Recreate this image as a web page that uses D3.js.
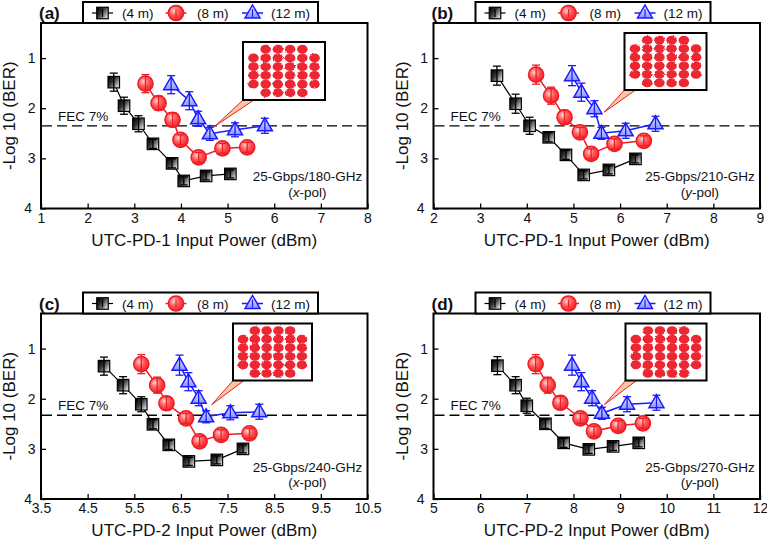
<!DOCTYPE html>
<html><head><meta charset="utf-8">
<script src="https://cdn.jsdelivr.net/npm/d3@7"></script>
<style>
body{margin:0;background:#fff}
svg{display:block}
text{font-family:"Liberation Sans",Arial,Helvetica,sans-serif;fill:#111}
</style>
</head><body>
<svg id="chart" width="767" height="541"></svg>
<script>
// ---------------- DATA ----------------
const panelLabels = ["(a)", "(b)", "(c)", "(d)"];
const xTitles = ["UTC-PD-1 Input Power (dBm)", "UTC-PD-1 Input Power (dBm)",
                 "UTC-PD-2 Input Power (dBm)", "UTC-PD-2 Input Power (dBm)"];
const xDomains = [[1, 8], [2, 9], [3.5, 10.5], [5, 12]];
const xTicksA = [1, 2, 3, 4, 5, 6, 7, 8];
const xTicksB = [2, 3, 4, 5, 6, 7, 8, 9];
const xTicksC = [3.5, 4.5, 5.5, 6.5, 7.5, 8.5, 9.5, 10.5];
const xTicksD = [5, 6, 7, 8, 9, 10, 11, 12];
const yDomain = [0.3, 4];
const yTicks = [1, 2, 3, 4];
const yTitle = "-Log 10 (BER)";
const fecLevels = [2.35, 2.35, 2.33, 2.33];
const fecLabel = "FEC 7%";
const rateLabels = ["25-Gbps/180-GHz", "25-Gbps/210-GHz", "25-Gbps/240-GHz", "25-Gbps/270-GHz"];
const polLabels = ["x", "y", "x", "y"];
const seriesNames = ["(4 m)", "(8 m)", "(12 m)"];

// panel (a)
const aX4 = [2.56, 2.78, 3.09, 3.40, 3.81, 4.06, 4.54, 5.06];
const aY4 = [1.48, 1.95, 2.31, 2.71, 3.10, 3.45, 3.35, 3.31];
const aE4 = [0.18, 0.17, 0.16, 0.09, 0.09, 0.08, 0.08, 0.08];
const aX8 = [3.24, 3.52, 3.82, 3.99, 4.38, 4.89, 5.42];
const aY8 = [1.51, 1.90, 2.23, 2.63, 2.98, 2.80, 2.78];
const aE8 = [0.18, 0.14, 0.14, 0.10, 0.10, 0.10, 0.10];
const aX12 = [3.79, 4.18, 4.37, 4.62, 5.16, 5.80];
const aY12 = [1.53, 1.85, 2.21, 2.51, 2.43, 2.35];
const aE12 = [0.18, 0.18, 0.15, 0.13, 0.14, 0.15];
// panel (b)
const bX4 = [3.36, 3.76, 4.06, 4.47, 4.84, 5.22, 5.76, 6.33];
const bY4 = [1.35, 1.91, 2.35, 2.58, 2.93, 3.33, 3.23, 3.01];
const bE4 = [0.19, 0.19, 0.17, 0.09, 0.09, 0.08, 0.08, 0.08];
const bX8 = [4.20, 4.52, 4.81, 5.14, 5.38, 5.88, 6.51];
const bY8 = [1.33, 1.75, 2.18, 2.48, 2.91, 2.71, 2.65];
const bE8 = [0.19, 0.17, 0.14, 0.10, 0.10, 0.10, 0.10];
const bX12 = [4.97, 5.17, 5.45, 5.60, 6.12, 6.76];
const bY12 = [1.35, 1.68, 2.01, 2.50, 2.45, 2.31];
const bE12 = [0.20, 0.18, 0.16, 0.12, 0.15, 0.15];
// panel (c)
const cX4 = [4.85, 5.26, 5.65, 5.90, 6.24, 6.67, 7.27, 7.83];
const cY4 = [1.35, 1.73, 2.11, 2.51, 2.92, 3.25, 3.22, 3.00];
const cE4 = [0.18, 0.17, 0.15, 0.09, 0.09, 0.08, 0.08, 0.08];
const cX8 = [5.65, 5.99, 6.19, 6.61, 6.90, 7.36, 7.97];
const cY8 = [1.31, 1.73, 2.09, 2.39, 2.85, 2.72, 2.69];
const cE8 = [0.19, 0.16, 0.13, 0.10, 0.10, 0.10, 0.10];
const cX12 = [6.47, 6.66, 6.88, 7.04, 7.56, 8.18];
const cY12 = [1.33, 1.66, 1.99, 2.36, 2.28, 2.26];
const cE12 = [0.20, 0.18, 0.15, 0.12, 0.14, 0.15];
// panel (d)
const dX4 = [6.37, 6.76, 7.00, 7.40, 7.79, 8.33, 8.85, 9.40];
const dY4 = [1.34, 1.73, 2.14, 2.50, 2.88, 3.01, 2.95, 2.88];
const dE4 = [0.18, 0.17, 0.15, 0.09, 0.09, 0.08, 0.08, 0.08];
const dX8 = [7.19, 7.45, 7.72, 8.15, 8.44, 8.96, 9.49];
const dY8 = [1.31, 1.73, 2.08, 2.39, 2.65, 2.54, 2.49];
const dE8 = [0.19, 0.16, 0.13, 0.10, 0.10, 0.10, 0.10];
const dX12 = [7.97, 8.17, 8.40, 8.61, 9.15, 9.78];
const dY12 = [1.33, 1.66, 1.99, 2.29, 2.11, 2.08];
const dE12 = [0.20, 0.18, 0.15, 0.12, 0.15, 0.15];

// callout tip of each constellation inset, in data units
const calloutTipX = [4.74, 5.66, 7.16, 8.66];
const calloutTipY = [2.35, 2.08, 2.12, 2.12];

// ---------------- LAYOUT / STYLE ----------------
const FONT = '"Liberation Sans",Arial,Helvetica,sans-serif';
const W = 326.5, H = 185.5;
const frames = [
  {left: 41, top: 23}, {left: 433.5, top: 23},
  {left: 41, top: 313.5}, {left: 433.5, top: 313.5}
];
const insets = [
  {dx: 202, dy: 19, w: 82, h: 58},
  {dx: 191, dy: 10, w: 82, h: 57},
  {dx: 192, dy: 10, w: 79, h: 57},
  {dx: 192, dy: 10, w: 81, h: 57}
];
const styles = [
  {shape: "square", stroke: "#000", fill: "url(#gSq)", line: "#000", lw: 1.2},
  {shape: "circle", stroke: "#ee1c24", fill: "url(#gCi)", line: "#ee1c24", lw: 1.5},
  {shape: "triangle", stroke: "#1a1aff", fill: "url(#gTr)", line: "#1a1aff", lw: 1.5}
];

const panelData = [
  [[aX4, aY4, aE4], [aX8, aY8, aE8], [aX12, aY12, aE12]],
  [[bX4, bY4, bE4], [bX8, bY8, bE8], [bX12, bY12, bE12]],
  [[cX4, cY4, cE4], [cX8, cY8, cE8], [cX12, cY12, cE12]],
  [[dX4, dY4, dE4], [dX8, dY8, dE8], [dX12, dY12, dE12]]
];
const xTickSets = [xTicksA, xTicksB, xTicksC, xTicksD];

const svg = d3.select("#chart");
const defs = svg.append("defs");
// gradients
const gSq = defs.append("linearGradient").attr("id", "gSq")
  .attr("x1", 0).attr("y1", 0.1).attr("x2", 1).attr("y2", 0.9);
gSq.append("stop").attr("offset", 0).attr("stop-color", "#000");
gSq.append("stop").attr("offset", 0.4).attr("stop-color", "#333");
gSq.append("stop").attr("offset", 1).attr("stop-color", "#f4f4f4");
const gCi = defs.append("radialGradient").attr("id", "gCi")
  .attr("cx", 0.38).attr("cy", 0.35).attr("r", 0.7);
gCi.append("stop").attr("offset", 0).attr("stop-color", "#ffd6d6");
gCi.append("stop").attr("offset", 0.45).attr("stop-color", "#ff5a5a");
gCi.append("stop").attr("offset", 1).attr("stop-color", "#ee1c24");
const gTr = defs.append("linearGradient").attr("id", "gTr")
  .attr("x1", 0).attr("y1", 0).attr("x2", 0).attr("y2", 1);
gTr.append("stop").attr("offset", 0).attr("stop-color", "#eef0ff");
gTr.append("stop").attr("offset", 1).attr("stop-color", "#8a95ff");
const blur = defs.append("filter").attr("id", "fz")
  .attr("x", "-30%").attr("y", "-30%").attr("width", "160%").attr("height", "160%");
blur.append("feTurbulence").attr("type", "fractalNoise").attr("baseFrequency", 0.9)
  .attr("numOctaves", 2).attr("seed", 3).attr("result", "noise");
blur.append("feDisplacementMap").attr("in", "SourceGraphic").attr("in2", "noise")
  .attr("scale", 2.2).attr("xChannelSelector", "R").attr("yChannelSelector", "G").attr("result", "disp");
blur.append("feGaussianBlur").attr("in", "disp").attr("stdDeviation", 0.55);

function drawMarker(g, st, x, y) {
  if (st.shape === "square") {
    g.append("rect").attr("x", x - 5.75).attr("y", y - 5.75).attr("width", 11.5).attr("height", 11.5)
      .attr("fill", st.fill).attr("stroke", st.stroke).attr("stroke-width", 1.2);
  } else if (st.shape === "circle") {
    g.append("circle").attr("cx", x).attr("cy", y).attr("r", 7.6)
      .attr("fill", st.fill).attr("stroke", st.stroke).attr("stroke-width", 1.5);
  } else {
    g.append("path").attr("d", `M${x},${y - 8}L${x + 7.5},${y + 5}L${x - 7.5},${y + 5}Z`)
      .attr("fill", st.fill).attr("stroke", st.stroke).attr("stroke-width", 1.5)
      .attr("stroke-linejoin", "miter");
  }
}

panelData.forEach((series, p) => {
  const fr = frames[p];
  const g = svg.append("g");
  const x = d3.scaleLinear().domain(xDomains[p]).range([fr.left, fr.left + W]);
  const y = d3.scaleLinear().domain(yDomain).range([fr.top, fr.top + H]);

  // axes (inward ticks)
  const xa = g.append("g").attr("transform", `translate(0,${fr.top + H})`)
    .call(d3.axisBottom(x).tickValues(xTickSets[p]).tickSizeInner(-5).tickSizeOuter(0)
      .tickPadding(4.5).tickFormat(d => String(d)));
  const ya = g.append("g").attr("transform", `translate(${fr.left},0)`)
    .call(d3.axisLeft(y).tickValues(yTicks).tickSizeInner(-5).tickSizeOuter(0)
      .tickPadding(5.5).tickFormat(d => String(d)));
  [xa, ya].forEach(a => {
    a.select(".domain").remove();
    a.selectAll("line").attr("stroke", "#000").attr("stroke-width", 1.3);
    a.selectAll("text").attr("font-family", FONT).attr("font-size", 14).attr("fill", "#111");
  });
  // the lowest y label sits a little further left, clear of the first x label
  ya.selectAll(".tick text").filter(d => d === yDomain[1]).attr("dx", -3.5);

  // frame
  g.append("rect").attr("x", fr.left).attr("y", fr.top).attr("width", W).attr("height", H)
    .attr("fill", "none").attr("stroke", "#000").attr("stroke-width", 2);

  // axis titles
  g.append("text").attr("x", fr.left + W / 2).attr("y", fr.top + H + 37)
    .attr("text-anchor", "middle").attr("font-size", 17).text(xTitles[p]);
  g.append("text").attr("transform", `translate(${fr.left - 26},${fr.top + H / 2}) rotate(-90)`)
    .attr("text-anchor", "middle").attr("font-size", 17).text(yTitle);

  // panel label
  g.append("text").attr("x", fr.left - 2).attr("y", fr.top - 4)
    .attr("font-size", 17).attr("font-weight", "bold").text(panelLabels[p]);

  // FEC line
  const yf = y(fecLevels[p]);
  g.append("line").attr("x1", fr.left + 1).attr("x2", fr.left + W - 1).attr("y1", yf).attr("y2", yf)
    .attr("stroke", "#000").attr("stroke-width", 1.3).attr("stroke-dasharray", "10,5");
  g.append("text").attr("x", fr.left + 17).attr("y", yf - 5).attr("font-size", 13.5).text(fecLabel);

  // rate annotation
  const ax = fr.left + W - 60;
  g.append("text").attr("x", ax).attr("y", fr.top + H - 27.5).attr("text-anchor", "middle")
    .attr("font-size", 13.5).text(rateLabels[p]);
  const pt = g.append("text").attr("x", ax).attr("y", fr.top + H - 12).attr("text-anchor", "middle")
    .attr("font-size", 13.5);
  pt.append("tspan").text("(");
  pt.append("tspan").attr("font-style", "italic").text(polLabels[p]);
  pt.append("tspan").text("-pol)");

  // series lines
  series.forEach((s, k) => {
    const st = styles[k];
    const pts = s[0].map((v, i) => [v, s[1][i]]);
    g.append("path").datum(pts)
      .attr("d", d3.line().x(d => x(d[0])).y(d => y(d[1])))
      .attr("fill", "none").attr("stroke", st.line).attr("stroke-width", st.lw);
  });
  // markers + error bars
  series.forEach((s, k) => {
    const st = styles[k];
    s[0].forEach((v, i) => {
      const cx = x(v), cy = y(s[1][i]);
      drawMarker(g, st, cx, cy);
      const y1 = y(s[1][i] - s[2][i]), y2 = y(s[1][i] + s[2][i]);
      const eb = g.append("g").attr("stroke", st.stroke).attr("stroke-width", 1.3);
      eb.append("line").attr("x1", cx).attr("x2", cx).attr("y1", y1).attr("y2", y2);
      eb.append("line").attr("x1", cx - 4).attr("x2", cx + 4).attr("y1", y1).attr("y2", y1);
      eb.append("line").attr("x1", cx - 4).attr("x2", cx + 4).attr("y1", y2).attr("y2", y2);
    });
  });

  // callout + inset constellation
  const ins = insets[p];
  const ix = fr.left + ins.dx, iy = fr.top + ins.dy;
  const tx = x(calloutTipX[p]), ty = y(calloutTipY[p]);
  g.append("path").attr("d", `M${tx},${ty}L${ix},${iy + ins.h}L${ix + 11},${iy + ins.h}Z`)
    .attr("fill", "#f9c7a4").attr("stroke", "#ee1c24").attr("stroke-width", 1);
  g.append("rect").attr("x", ix).attr("y", iy).attr("width", ins.w).attr("height", ins.h)
    .attr("fill", "#fff").attr("stroke", "#000").attr("stroke-width", 2);
  const cxm = ix + ins.w / 2, cym = iy + ins.h / 2;
  const sx = ins.w * 0.149, sy = ins.h * 0.15;
  const blobs = g.append("g").attr("filter", "url(#fz)");
  for (let r = 0; r < 6; r++) {
    for (let c = 0; c < 6; c++) {
      if ((r === 0 || r === 5) && (c === 0 || c === 5)) continue;
      blobs.append("ellipse")
        .attr("cx", cxm + (c - 2.5) * sx).attr("cy", cym + (r - 2.5) * sy)
        .attr("rx", 5.3).attr("ry", 4.4).attr("fill", "#ec2630");
    }
  }

  // legend
  const lx = fr.left + 42, ly = fr.top - 21;
  const lg = svg.append("g");
  lg.append("rect").attr("x", lx).attr("y", ly).attr("width", 235).attr("height", 21)
    .attr("fill", "#fff").attr("stroke", "#000").attr("stroke-width", 2);
  const lcx = [61.5, 135, 211.5];
  const ltx = [81, 156, 230];
  styles.forEach((st, k) => {
    const mx = fr.left + lcx[k], my = ly + 11;
    lg.append("line").attr("x1", mx - 10.5).attr("x2", mx + 10.5).attr("y1", my).attr("y2", my)
      .attr("stroke", st.line).attr("stroke-width", st.lw);
    drawMarker(lg, st, mx, my);
    lg.append("line").attr("x1", mx).attr("x2", mx).attr("y1", my - 4).attr("y2", my + 4)
      .attr("stroke", st.stroke).attr("stroke-width", 1.2);
    lg.append("text").attr("x", fr.left + ltx[k]).attr("y", my + 5)
      .attr("font-size", 13.5).text(seriesNames[k]);
  });
});
</script>
</body></html>
